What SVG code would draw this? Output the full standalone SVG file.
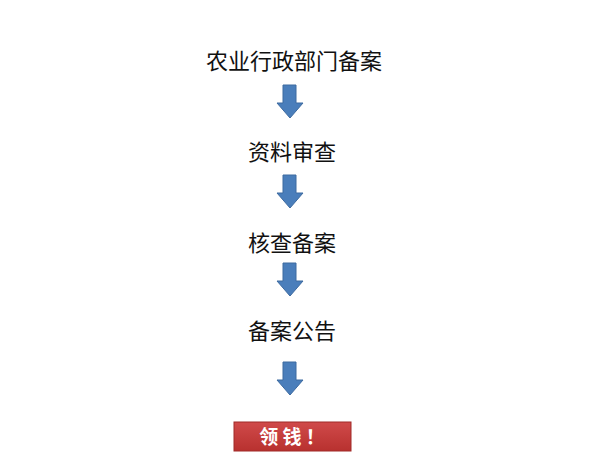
<svg xmlns="http://www.w3.org/2000/svg" width="612" height="474" viewBox="0 0 612 474">
<style>
.t{font-family:"Noto Sans CJK SC",sans-serif;font-size:22px;fill:#111;text-anchor:middle}
.a{fill:#4a7ebb;stroke:#3d6aa0;stroke-width:1}
</style>
<defs><linearGradient id="r" x1="0" y1="0" x2="0" y2="1"><stop offset="0" stop-color="#d04a4a"/><stop offset="1" stop-color="#b8312f"/></linearGradient>
<path id="arr" d="M-7,0 H6 V18 H13 L0,33 L-13,18 H-7 Z"/></defs>
<rect width="612" height="474" fill="#fff"/>
<g id="n1"><text class="t" x="294" y="69">农业行政部门备案</text></g>
<g id="n2"><text class="t" x="292" y="160">资料审查</text></g>
<g id="n3"><text class="t" x="292" y="251">核查备案</text></g>
<g id="n4"><text class="t" x="292" y="339">备案公告</text></g>
<g id="n5"><rect x="234" y="422" width="117" height="29" fill="url(#r)" stroke="#a02a28"/>
<text x="292" y="444" font-family="Noto Sans CJK SC,sans-serif" font-size="19" font-weight="bold" fill="#fff" text-anchor="middle">领 钱 ！</text></g>
<g id="connectors">
<use href="#arr" class="a" x="290" y="85"/>
<use href="#arr" class="a" x="290" y="175"/>
<use href="#arr" class="a" x="290" y="263"/>
<use href="#arr" class="a" x="290" y="362"/>
</g>
</svg>
